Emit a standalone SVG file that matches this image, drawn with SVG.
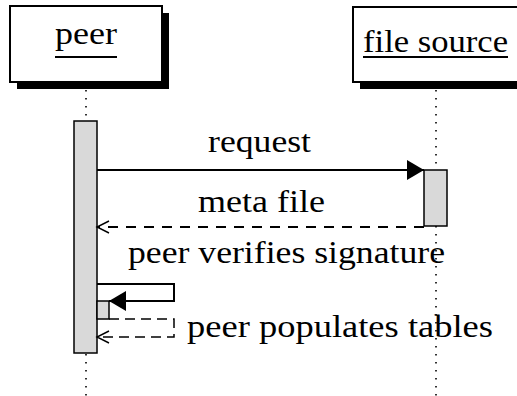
<svg xmlns="http://www.w3.org/2000/svg" width="517" height="396" viewBox="0 0 517 396">
<style>
.box{fill:#fff;stroke:#000;stroke-width:2}
.shadow{fill:#000}
.life{stroke:#000;stroke-width:1.6;stroke-dasharray:1.6 6.4;fill:none}
.act{fill:#d9d9d9;stroke:#000;stroke-width:1.5}
.solid{stroke:#000;stroke-width:2;fill:none}
.dash{stroke:#000;stroke-width:2;fill:none;stroke-dasharray:10 8}
.thindash{stroke:#000;stroke-width:1.5;fill:none;stroke-dasharray:10 6}
.ul{stroke:#000;stroke-width:2}
</style>
<defs>
<marker id="fill" markerUnits="userSpaceOnUse" markerWidth="20" markerHeight="22" refX="17" refY="10" orient="auto">
<path d="M0,0 L17,10 L0,20 Z" fill="#000"/>
</marker>
<marker id="open" markerUnits="userSpaceOnUse" markerWidth="16" markerHeight="16" refX="13" refY="7" orient="auto">
<path d="M1,1 L13,7 L1,13" fill="none" stroke="#000" stroke-width="1.4"/>
</marker>
</defs>
<g id="lifelines">
<line class="life" x1="86" y1="90" x2="86" y2="396"/>
<line class="life" x1="436" y1="90" x2="436" y2="396"/>
</g>
<g id="peer">
<rect class="shadow" x="17" y="13" width="152" height="76"/>
<rect class="box" x="10" y="6" width="152" height="76"/>
<text x="55" y="44" font-family="Liberation Serif, serif" font-size="32" textLength="62" lengthAdjust="spacingAndGlyphs">peer</text>
<line class="ul" x1="55" y1="57" x2="117" y2="57"/>
</g>
<g id="filesource">
<rect class="shadow" x="360" y="14" width="170" height="75"/>
<rect class="box" x="353" y="7" width="170" height="75"/>
<text x="363" y="52" font-family="Liberation Serif, serif" font-size="32" textLength="145" lengthAdjust="spacingAndGlyphs">file source</text>
<line class="ul" x1="363" y1="57" x2="508" y2="57"/>
</g>
<g id="peer-activation">
<rect class="act" x="74" y="121" width="23" height="232"/>
<rect class="act" x="97" y="301" width="12" height="18"/>
</g>
<g id="filesource-activation">
<rect class="act" x="424" y="170" width="23" height="56"/>
</g>
<g id="connectors">
<line class="solid" x1="97" y1="170" x2="424" y2="170" marker-end="url(#fill)"/>
<line class="dash" x1="424" y1="227" x2="97" y2="227" marker-end="url(#open)"/>
<polyline class="solid" points="97,284 174,284 174,301 109,301" marker-end="url(#fill)"/>
<polyline class="thindash" points="109,319 174,319 174,337 97,337" marker-end="url(#open)"/>
</g>
<g id="labels" font-family="Liberation Serif, serif" font-size="32">
<text x="208" y="152" textLength="103" lengthAdjust="spacingAndGlyphs">request</text>
<text x="198" y="212" textLength="127" lengthAdjust="spacingAndGlyphs">meta file</text>
<text x="128" y="263" textLength="317" lengthAdjust="spacingAndGlyphs">peer verifies signature</text>
<text x="187" y="337" textLength="306" lengthAdjust="spacingAndGlyphs">peer populates tables</text>
</g>
</svg>
